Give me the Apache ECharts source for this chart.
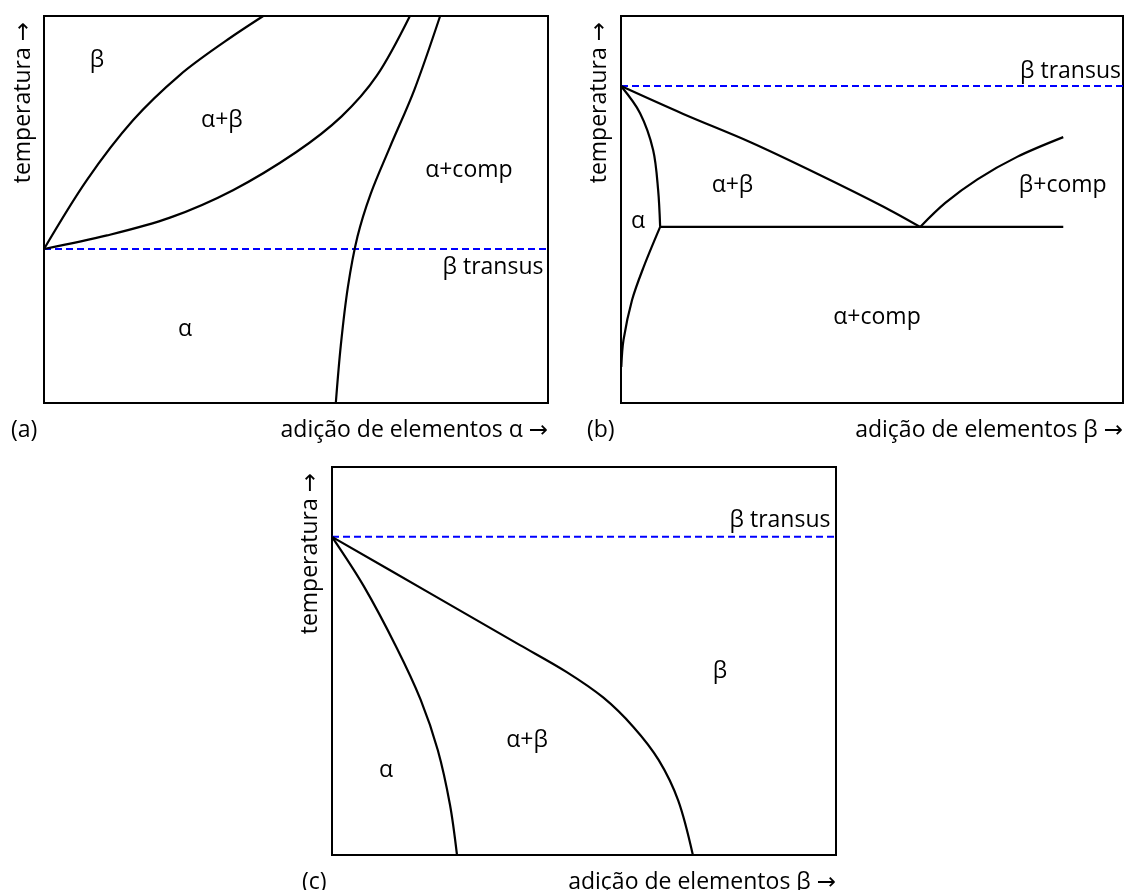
<!DOCTYPE html>
<html>
<head>
<meta charset="utf-8">
<script src="https://cdn.jsdelivr.net/npm/echarts@6/dist/echarts.min.js"></script>
<style>
html,body{margin:0;padding:0;background:#fff;}
#chart{width:1125px;height:890px;}
</style>
</head>
<body>
<div id="chart"></div>
<script>
// ---------- DATA (composition 0-100, temperature 0-100) ----------
// Panel (a): alpha-stabilizer additions
const aTransus = [[0, 39.8], [100, 39.8]];
const aBetaBoundary = [[0, 39.8], [8.5, 57.6], [17.7, 73.1], [27.0, 84.8], [36.0, 93.5], [43.5, 100]];
const aAlphaBoundary = [[0, 39.8], [12.5, 43.3], [25.0, 47.9], [37.5, 55.0], [50.0, 64.8], [59.0, 74.0], [66.0, 84.5], [72.6, 100]];
const aCompBoundary = [[57.9, 0], [58.9, 15.0], [60.3, 30.0], [62.2, 43.0], [64.8, 54.0], [68.6, 66.0], [73.5, 81.0], [78.6, 100]];
const aLabels = [['β', 10.5, 88.6], ['α+β', 35.3, 73.1], ['α+comp', 84.3, 60.2], ['α', 28.0, 18.9]];
const aTransusLabel = ['β transus', 99.2, 35.1];

// Panel (b): eutectoid beta-stabilizer additions
const bTransus = [[0, 81.9], [100, 81.9]];
const bBetaBoundary = [[0, 81.9], [12.4, 74.7], [25.8, 67.4], [39.2, 59.2], [52.2, 50.8], [59.6, 45.5]];
const bCompBoundary = [[59.6, 45.5], [64.6, 51.7], [71.0, 57.8], [78.9, 63.6], [88.1, 68.7]];
const bEutectoid = [[7.8, 45.5], [88.1, 45.5]];
const bAlphaUpper = [[0, 81.9], [3.8, 74.9], [6.4, 65.4], [7.4, 55.0], [7.8, 45.5]];
const bAlphaLower = [[7.8, 45.5], [4.5, 35.1], [2.2, 26.6], [0.5, 16.3], [0.06, 9.3]];
const bLabels = [['α+β', 22.2, 56.3], ['β+comp', 88.0, 56.3], ['α', 3.4, 46.8], ['α+comp', 51.0, 22.2]];
const bTransusLabel = ['β transus', 99.7, 85.8];

// Panel (c): isomorphous beta-stabilizer additions
const cTransus = [[0, 82.0], [100, 82.0]];
const cAlphaBoundary = [[0, 82.0], [6.3, 69.3], [12.8, 53.5], [17.6, 40.0], [21.0, 27.0], [23.4, 13.0], [24.8, 0]];
const cBetaBoundary = [[0, 82.0], [19.4, 67.5], [37.3, 54.1], [46.5, 47.2], [53.8, 40.6], [59.8, 33.0], [64.8, 24.5], [68.7, 14.0], [71.6, 0]];
const cLabels = [['β', 77.0, 47.2], ['α+β', 38.7, 29.6], ['α', 10.7, 21.9]];
const cTransusLabel = ['β transus', 99.0, 86.1];

const yName = 'temperatura →';
const xNameA = 'adição de elementos α →';
const xNameB = 'adição de elementos β →';
const panelTags = ['(a)', '(b)', '(c)'];

// ---------- CHART ----------
const FONT = "'Open Sans', 'Noto Sans', 'DejaVu Sans', sans-serif";
const FS = 23;
const chart = echarts.init(document.getElementById('chart'), null, {renderer: 'canvas'});

const grids = [
  {left: 44, top: 16, width: 504, height: 387},
  {left: 621, top: 16, width: 502, height: 387},
  {left: 332, top: 467, width: 504, height: 388}
].map(g => Object.assign(g, {show: true, borderColor: '#000', borderWidth: 2, backgroundColor: 'transparent', containLabel: false}));

const xAxes = [0, 1, 2].map(i => ({type: 'value', gridIndex: i, min: 0, max: 100, show: false}));
const yAxes = [0, 1, 2].map(i => ({type: 'value', gridIndex: i, min: 0, max: 100, show: false}));

function curve(data, gi, smooth) {
  return {type: 'line', xAxisIndex: gi, yAxisIndex: gi, data: data, showSymbol: false, symbol: 'none',
    smooth: smooth === undefined ? 0.33 : smooth, lineStyle: {color: '#000', width: 2.2}, silent: true, z: 3, animation: false};
}
function dashed(data, gi) {
  return {type: 'line', xAxisIndex: gi, yAxisIndex: gi, data: data, showSymbol: false, symbol: 'none',
    lineStyle: {color: '#0000ff', width: 2, type: [7, 4]}, silent: true, z: 2, animation: false};
}
const labelStyle = {show: true, color: '#000', fontSize: FS, fontFamily: FONT, textBorderWidth: 0, opacity: 1};
function labels(list, gi) {
  return {type: 'scatter', xAxisIndex: gi, yAxisIndex: gi, symbolSize: 1, itemStyle: {color: '#fff', opacity: 1},
    silent: true, animation: false, z: 5,
    data: list.map(l => ({name: l[0], value: [l[1], l[2]]})),
    label: Object.assign({position: 'inside', formatter: p => p.name}, labelStyle)};
}
function transusLabel(l, gi) {
  return {type: 'scatter', xAxisIndex: gi, yAxisIndex: gi, symbolSize: 1, itemStyle: {color: '#fff', opacity: 1},
    silent: true, animation: false, z: 5,
    data: [{name: l[0], value: [l[1], l[2]]}],
    label: Object.assign({position: 'left', distance: 0, formatter: p => p.name}, labelStyle)};
}

const series = [
  dashed(aTransus, 0), curve(aBetaBoundary, 0), curve(aAlphaBoundary, 0), curve(aCompBoundary, 0),
  labels(aLabels, 0), transusLabel(aTransusLabel, 0),
  dashed(bTransus, 1), curve(bBetaBoundary, 1), curve(bCompBoundary, 1), curve(bEutectoid, 1, false),
  curve(bAlphaUpper, 1), curve(bAlphaLower, 1),
  labels(bLabels, 1), transusLabel(bTransusLabel, 1),
  dashed(cTransus, 2), curve(cAlphaBoundary, 2), curve(cBetaBoundary, 2),
  labels(cLabels, 2), transusLabel(cTransusLabel, 2)
];

function txt(x, y, text, align, rot) {
  return {type: 'text', x: x, y: y, rotation: rot || 0, silent: true,
    style: {text: text, fill: '#000', font: FS + 'px ' + FONT, align: align, verticalAlign: 'middle'}};
}
const g = grids;
const graphic = [
  txt(g[0].left - 21, g[0].top + 6, yName, 'right', Math.PI / 2),
  txt(g[1].left - 22, g[1].top + 6, yName, 'right', Math.PI / 2),
  txt(g[2].left - 22, g[2].top + 6, yName, 'right', Math.PI / 2),
  txt(11, g[0].top + g[0].height + 27, panelTags[0], 'left'),
  txt(g[0].left + g[0].width, g[0].top + g[0].height + 27, xNameA, 'right'),
  txt(587, g[1].top + g[1].height + 27, panelTags[1], 'left'),
  txt(g[1].left + g[1].width, g[1].top + g[1].height + 27, xNameB, 'right'),
  txt(302, g[2].top + g[2].height + 27, panelTags[2], 'left'),
  txt(g[2].left + g[2].width, g[2].top + g[2].height + 27, xNameB, 'right')
];

chart.setOption({
  backgroundColor: '#fff',
  animation: false,
  grid: grids,
  xAxis: xAxes,
  yAxis: yAxes,
  series: series,
  graphic: graphic
});
</script>
</body>
</html>
